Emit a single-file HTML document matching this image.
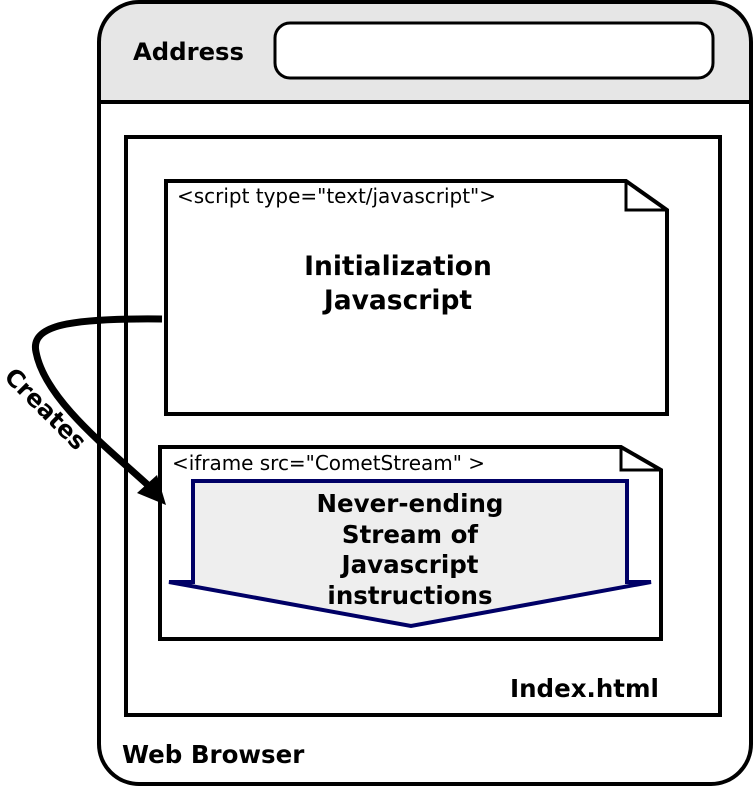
<!DOCTYPE html>
<html><head><meta charset="utf-8"><style>body{margin:0;background:#fff}svg{display:block}text{font-family:"DejaVu Sans","Liberation Sans",sans-serif}</style></head>
<body>
<svg width="754" height="787" viewBox="0 0 754 787" xmlns="http://www.w3.org/2000/svg">
<path d="M99,102 V42 Q99,2 139,2 H711 Q751,2 751,42 V102 Z" fill="#e6e6e6"/>
<rect x="99" y="2" width="652" height="782" rx="40" fill="none" stroke="#000" stroke-width="4"/>
<line x1="99" y1="102" x2="751" y2="102" stroke="#000" stroke-width="4"/>
<text x="133" y="60" font-size="24.3" font-weight="bold">Address</text>
<rect x="275" y="23" width="438" height="55" rx="15" fill="#fff" stroke="#000" stroke-width="3"/>
<rect x="126" y="137" width="594" height="578" fill="#fff" stroke="#000" stroke-width="4"/>
<path d="M166,181 H626 L667,210 V414 H166 Z" fill="#fff" stroke="#000" stroke-width="4"/>
<path d="M626,181 V210 H667" fill="none" stroke="#000" stroke-width="3"/>
<text x="177" y="203" font-size="20" textLength="319">&lt;script type="text/javascript"&gt;</text>
<text x="398" y="275" font-size="26.5" font-weight="bold" text-anchor="middle">Initialization</text>
<text x="398" y="309" font-size="26.5" font-weight="bold" text-anchor="middle">Javascript</text>
<path d="M160,447 H621 L661,470 V639 H160 Z" fill="#fff" stroke="#000" stroke-width="4"/>
<path d="M621,447 V470 H661" fill="none" stroke="#000" stroke-width="3"/>
<text x="172" y="470" font-size="20" textLength="313">&lt;iframe src="CometStream" &gt;</text>
<path d="M193,481 H627 V582 H651 L411,626 L169,582 H193 Z" fill="#eee" stroke="#000066" stroke-width="4"/>
<g font-size="24.5" font-weight="bold" text-anchor="middle">
<text x="410" y="512">Never-ending</text>
<text x="410" y="543">Stream of</text>
<text x="410" y="573">Javascript</text>
<text x="410" y="604">instructions</text>
</g>
<text x="510" y="697" font-size="24.5" font-weight="bold">Index.html</text>
<text x="122" y="763" font-size="24.5" font-weight="bold">Web Browser</text>
<path d="M162,319 C70,318 30,325 36,352 C45,400 110,450 150,487" fill="none" stroke="#000" stroke-width="7"/>
<path d="M166,505 L137,493 L157,475 Z" fill="#000"/>
<text x="0" y="0" font-size="24" font-weight="bold" transform="translate(3,378) rotate(45)">Creates</text>
</svg>
</body></html>
